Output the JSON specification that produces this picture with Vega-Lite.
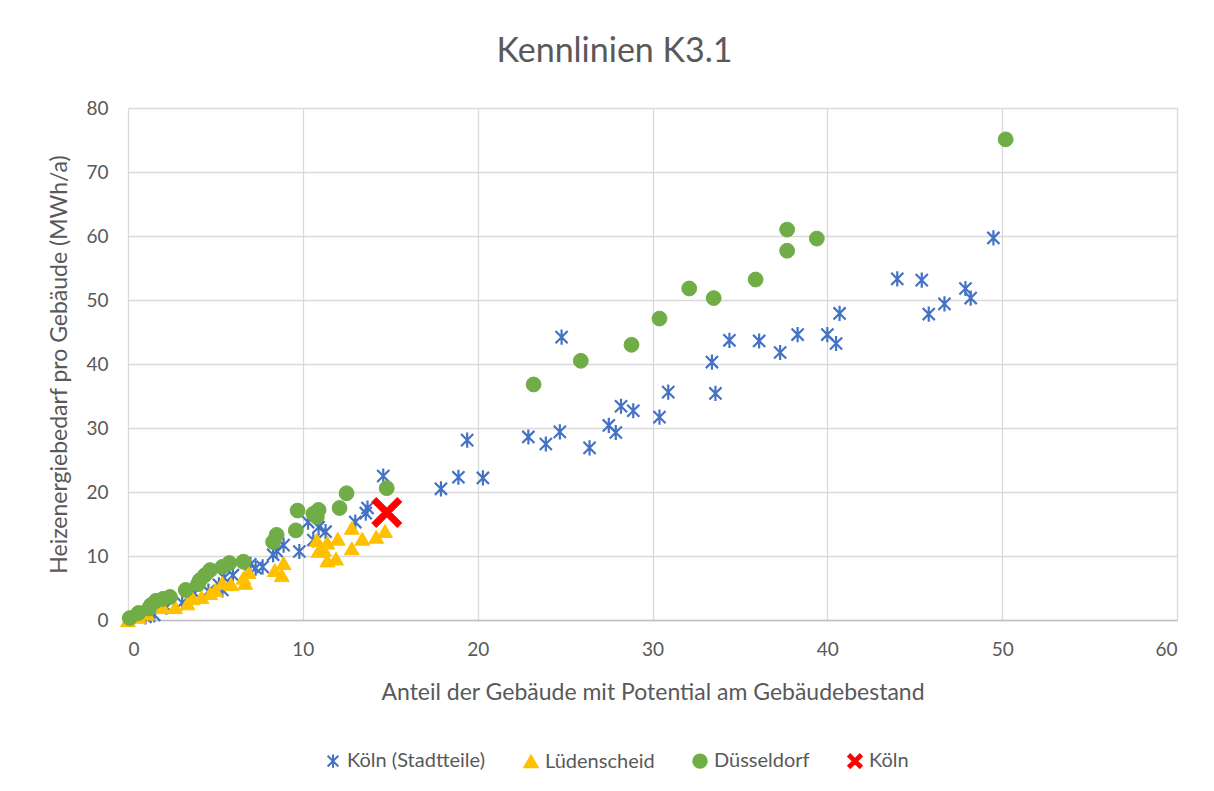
{
 "$schema": "https://vega.github.io/schema/vega-lite/v6.json",
 "width": 1049, "height": 512,
 "autosize": {"type": "none"},
 "padding": {"left": 128, "top": 108, "right": 37, "bottom": 171},
 "background": "white",
 "title": {"text": "Kennlinien K3.1", "font": "Lato", "fontSize": 34, "fontWeight": "normal", "color": "#595959", "anchor": "middle", "offset": 30, "dx": -38},
 "config": {
  "font": "Lato",
  "view": {"stroke": null},
  "axis": {"grid": true, "gridColor": "#d9d9d9", "gridWidth": 1.3, "domain": false, "ticks": false, "labelColor": "#595959", "labelFontSize": 19, "labelFont": "Lato", "titleColor": "#595959", "titleFontSize": 23, "titleFont": "Lato", "titleFontWeight": "normal"},
  "axisX": {"domain": true, "domainColor": "#bfbfbf", "domainWidth": 1.5, "labelPadding": 20, "titlePadding": 22},
  "axisY": {"labelPadding": 20, "titlePadding": 14},
  "legend": {"labelFont": "Lato", "labelFontSize": 20, "labelColor": "#595959", "symbolSize": 180, "symbolStrokeWidth": 2, "columnPadding": 34, "labelOffset": 4}
 },
 "data": {"values": [
  {"s":"Köln (Stadtteile)","x":49.5,"y":59.7},
  {"s":"Köln (Stadtteile)","x":48.2,"y":50.3},
  {"s":"Köln (Stadtteile)","x":47.9,"y":51.8},
  {"s":"Köln (Stadtteile)","x":46.7,"y":49.4},
  {"s":"Köln (Stadtteile)","x":45.8,"y":47.8},
  {"s":"Köln (Stadtteile)","x":45.4,"y":53.1},
  {"s":"Köln (Stadtteile)","x":44.0,"y":53.3},
  {"s":"Köln (Stadtteile)","x":40.7,"y":47.9},
  {"s":"Köln (Stadtteile)","x":40.5,"y":43.2},
  {"s":"Köln (Stadtteile)","x":40.0,"y":44.6},
  {"s":"Köln (Stadtteile)","x":38.3,"y":44.6},
  {"s":"Köln (Stadtteile)","x":37.3,"y":41.8},
  {"s":"Köln (Stadtteile)","x":36.1,"y":43.6},
  {"s":"Köln (Stadtteile)","x":34.4,"y":43.7},
  {"s":"Köln (Stadtteile)","x":33.6,"y":35.4},
  {"s":"Köln (Stadtteile)","x":33.4,"y":40.3},
  {"s":"Köln (Stadtteile)","x":30.9,"y":35.6},
  {"s":"Köln (Stadtteile)","x":30.4,"y":31.7},
  {"s":"Köln (Stadtteile)","x":28.9,"y":32.7},
  {"s":"Köln (Stadtteile)","x":28.2,"y":33.4},
  {"s":"Köln (Stadtteile)","x":27.9,"y":29.3},
  {"s":"Köln (Stadtteile)","x":27.5,"y":30.4},
  {"s":"Köln (Stadtteile)","x":26.4,"y":26.9},
  {"s":"Köln (Stadtteile)","x":24.8,"y":44.2},
  {"s":"Köln (Stadtteile)","x":24.7,"y":29.4},
  {"s":"Köln (Stadtteile)","x":23.9,"y":27.5},
  {"s":"Köln (Stadtteile)","x":22.9,"y":28.6},
  {"s":"Köln (Stadtteile)","x":20.3,"y":22.2},
  {"s":"Köln (Stadtteile)","x":19.4,"y":28.1},
  {"s":"Köln (Stadtteile)","x":18.9,"y":22.3},
  {"s":"Köln (Stadtteile)","x":17.9,"y":20.5},
  {"s":"Köln (Stadtteile)","x":14.6,"y":22.5},
  {"s":"Köln (Stadtteile)","x":13.7,"y":17.5},
  {"s":"Köln (Stadtteile)","x":13.6,"y":16.7},
  {"s":"Köln (Stadtteile)","x":13.0,"y":15.3},
  {"s":"Köln (Stadtteile)","x":11.3,"y":13.8},
  {"s":"Köln (Stadtteile)","x":10.9,"y":14.5},
  {"s":"Köln (Stadtteile)","x":10.3,"y":15.3},
  {"s":"Köln (Stadtteile)","x":10.6,"y":12.5},
  {"s":"Köln (Stadtteile)","x":9.8,"y":10.7},
  {"s":"Köln (Stadtteile)","x":8.9,"y":11.7},
  {"s":"Köln (Stadtteile)","x":8.5,"y":10.8},
  {"s":"Köln (Stadtteile)","x":8.3,"y":10.2},
  {"s":"Köln (Stadtteile)","x":7.7,"y":8.3},
  {"s":"Köln (Stadtteile)","x":7.3,"y":8.1},
  {"s":"Köln (Stadtteile)","x":7.0,"y":8.7},
  {"s":"Köln (Stadtteile)","x":6.0,"y":7.0},
  {"s":"Köln (Stadtteile)","x":5.5,"y":6.6},
  {"s":"Köln (Stadtteile)","x":5.2,"y":5.5},
  {"s":"Köln (Stadtteile)","x":5.4,"y":4.7},
  {"s":"Köln (Stadtteile)","x":4.6,"y":4.5},
  {"s":"Köln (Stadtteile)","x":3.8,"y":4.2},
  {"s":"Köln (Stadtteile)","x":3.1,"y":2.7},
  {"s":"Köln (Stadtteile)","x":2.2,"y":2.0},
  {"s":"Köln (Stadtteile)","x":1.5,"y":0.8},
  {"s":"Köln (Stadtteile)","x":1.0,"y":0.5},
  {"s":"Lüdenscheid","x":14.7,"y":13.9},
  {"s":"Lüdenscheid","x":14.2,"y":13.0},
  {"s":"Lüdenscheid","x":13.4,"y":12.7},
  {"s":"Lüdenscheid","x":12.8,"y":14.4},
  {"s":"Lüdenscheid","x":12.8,"y":11.2},
  {"s":"Lüdenscheid","x":12.0,"y":12.7},
  {"s":"Lüdenscheid","x":11.4,"y":12.1},
  {"s":"Lüdenscheid","x":10.8,"y":12.5},
  {"s":"Lüdenscheid","x":10.9,"y":10.8},
  {"s":"Lüdenscheid","x":11.2,"y":11.0},
  {"s":"Lüdenscheid","x":11.4,"y":9.3},
  {"s":"Lüdenscheid","x":11.9,"y":9.6},
  {"s":"Lüdenscheid","x":8.9,"y":8.9},
  {"s":"Lüdenscheid","x":8.4,"y":7.8},
  {"s":"Lüdenscheid","x":8.8,"y":7.0},
  {"s":"Lüdenscheid","x":6.9,"y":7.5},
  {"s":"Lüdenscheid","x":6.6,"y":6.6},
  {"s":"Lüdenscheid","x":6.7,"y":5.8},
  {"s":"Lüdenscheid","x":5.9,"y":5.6},
  {"s":"Lüdenscheid","x":5.4,"y":5.8},
  {"s":"Lüdenscheid","x":5.0,"y":4.7},
  {"s":"Lüdenscheid","x":4.7,"y":4.2},
  {"s":"Lüdenscheid","x":4.2,"y":3.6},
  {"s":"Lüdenscheid","x":3.7,"y":3.4},
  {"s":"Lüdenscheid","x":3.4,"y":2.6},
  {"s":"Lüdenscheid","x":2.7,"y":2.0},
  {"s":"Lüdenscheid","x":2.0,"y":2.0},
  {"s":"Lüdenscheid","x":1.1,"y":1.0},
  {"s":"Lüdenscheid","x":0.6,"y":0.5},
  {"s":"Lüdenscheid","x":0.0,"y":0.0},
  {"s":"Düsseldorf","x":50.2,"y":75.1},
  {"s":"Düsseldorf","x":39.4,"y":59.6},
  {"s":"Düsseldorf","x":37.7,"y":61.0},
  {"s":"Düsseldorf","x":37.7,"y":57.7},
  {"s":"Düsseldorf","x":35.9,"y":53.2},
  {"s":"Düsseldorf","x":33.5,"y":50.3},
  {"s":"Düsseldorf","x":32.1,"y":51.8},
  {"s":"Düsseldorf","x":30.4,"y":47.1},
  {"s":"Düsseldorf","x":28.8,"y":43.0},
  {"s":"Düsseldorf","x":25.9,"y":40.5},
  {"s":"Düsseldorf","x":23.2,"y":36.8},
  {"s":"Düsseldorf","x":14.8,"y":20.6},
  {"s":"Düsseldorf","x":12.5,"y":19.8},
  {"s":"Düsseldorf","x":12.1,"y":17.5},
  {"s":"Düsseldorf","x":10.9,"y":17.2},
  {"s":"Düsseldorf","x":10.8,"y":16.1},
  {"s":"Düsseldorf","x":10.6,"y":16.6},
  {"s":"Düsseldorf","x":9.7,"y":17.1},
  {"s":"Düsseldorf","x":9.6,"y":14.0},
  {"s":"Düsseldorf","x":8.5,"y":13.3},
  {"s":"Düsseldorf","x":8.3,"y":12.2},
  {"s":"Düsseldorf","x":6.6,"y":9.1},
  {"s":"Düsseldorf","x":5.8,"y":8.9},
  {"s":"Düsseldorf","x":5.4,"y":8.3},
  {"s":"Düsseldorf","x":4.7,"y":7.8},
  {"s":"Düsseldorf","x":4.4,"y":7.0},
  {"s":"Düsseldorf","x":4.1,"y":6.2},
  {"s":"Düsseldorf","x":4.0,"y":5.6},
  {"s":"Düsseldorf","x":3.3,"y":4.7},
  {"s":"Düsseldorf","x":2.4,"y":3.6},
  {"s":"Düsseldorf","x":2.0,"y":3.3},
  {"s":"Düsseldorf","x":1.6,"y":3.0},
  {"s":"Düsseldorf","x":1.3,"y":2.3},
  {"s":"Düsseldorf","x":1.2,"y":1.8},
  {"s":"Düsseldorf","x":0.6,"y":1.1},
  {"s":"Düsseldorf","x":0.1,"y":0.3},
  {"s":"Köln","x":14.8,"y":16.8}
 ]},
 "encoding": {
  "x": {"field": "x", "type": "quantitative", "scale": {"domain": [0, 60], "nice": false}, "axis": {"values": [0,10,20,30,40,50,60], "title": "Anteil der Gebäude mit Potential am Gebäudebestand"}},
  "y": {"field": "y", "type": "quantitative", "scale": {"domain": [0, 80], "nice": false}, "axis": {"values": [0,10,20,30,40,50,60,70,80], "title": "Heizenergiebedarf pro Gebäude (MWh/a)"}},
  "fill": {"field": "s", "type": "nominal", "scale": {"domain": ["Köln (Stadtteile)", "Lüdenscheid", "Düsseldorf", "Köln"], "range": ["#4472C4", "#FFC000", "#70AD47", "#FF0000"]}, "legend": {"title": null, "orient": "none", "direction": "horizontal", "legendX": 195, "legendY": 643}},
  "stroke": {"field": "s", "type": "nominal", "scale": {"domain": ["Köln (Stadtteile)", "Lüdenscheid", "Düsseldorf", "Köln"], "range": ["#4472C4", "#FFC000", "#70AD47", "#FF0000"]}, "legend": {"title": null, "orient": "none", "direction": "horizontal", "legendX": 195, "legendY": 643}},
  "shape": {"field": "s", "type": "nominal", "scale": {"domain": ["Köln (Stadtteile)", "Lüdenscheid", "Düsseldorf", "Köln"], "range": ["M0,-1L0,1M-0.8,-0.8L0.8,0.8M-0.8,0.8L0.8,-0.8", "triangle-up", "circle", "M-1,-0.7L-0.7,-1L0,-0.3L0.7,-1L1,-0.7L0.3,0L1,0.7L0.7,1L0,0.3L-0.7,1L-1,0.7L-0.3,0Z"]}, "legend": {"title": null, "orient": "none", "direction": "horizontal", "legendX": 195, "legendY": 643}}
 },
 "layer": [
  {"transform": [{"filter": "datum.s === 'Köln (Stadtteile)'"}], "mark": {"type": "point", "filled": true, "size": 230, "strokeWidth": 2.2, "opacity": 1}},
  {"transform": [{"filter": "datum.s === 'Lüdenscheid' || datum.s === 'Düsseldorf'"}], "mark": {"type": "point", "filled": true, "size": 220, "strokeWidth": 1, "opacity": 1}},
  {"transform": [{"filter": "datum.s === 'Köln'"}], "mark": {"type": "point", "filled": true, "size": 900, "strokeWidth": 1, "opacity": 1}}
 ]
}
